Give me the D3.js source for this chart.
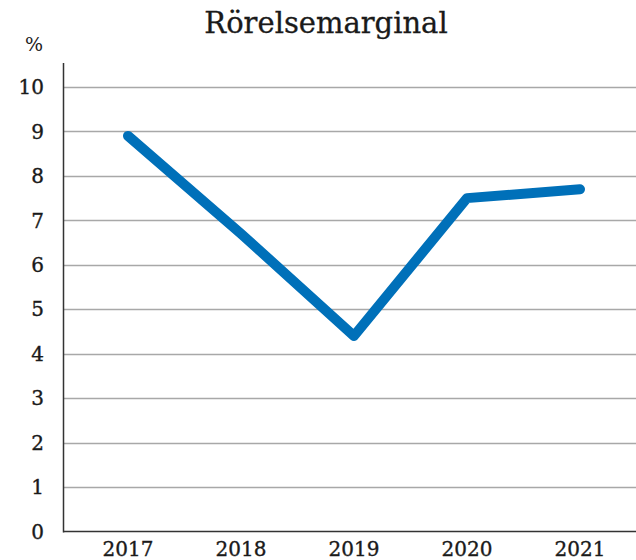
<!DOCTYPE html>
<html lang="sv">
<head>
  <meta charset="UTF-8">
  <title>Rörelsemarginal</title>
  <script src="https://d3js.org/d3.v7.min.js"></script>
  <style>
    body {
      margin: 0;
      background: #fff;
      font-family: "DejaVu Serif", serif;
    }
    .grid line { stroke: #a8a8a8; stroke-width: 1.5px; }
    .tick-label { font-size: 20px; fill: #1a1a1a; stroke: #1a1a1a; stroke-width: 0.35px; }
  </style>
</head>
<body>
<div id="chart"></div>

<script>
  // data
  var years = ["2017", "2018", "2019", "2020", "2021"];
  var margin = [8.9, 6.7, 4.4, 7.5, 7.7];
  var yTicks = [0, 1, 2, 3, 4, 5, 6, 7, 8, 9, 10];

  var width = 636, height = 560;
  var plotLeft = 63.5, plotRight = 636, plotTop = 63, plotBottom = 531.5;

  var svg = d3.select("#chart").append("svg")
    .attr("width", width)
    .attr("height", height);

  var x = d3.scalePoint()
    .domain(years)
    .range([128, 580]);

  var y = d3.scaleLinear()
    .domain([0, 10])
    .range([plotBottom, 87]);

  // gridlines
  svg.append("g").attr("class", "grid")
    .selectAll("line")
    .data(yTicks.filter(d => d > 0))
    .enter().append("line")
    .attr("x1", plotLeft)
    .attr("x2", plotRight)
    .attr("y1", d => Math.round(y(d)) + 0.5)
    .attr("y2", d => Math.round(y(d)) + 0.5);

  // axis lines
  svg.append("line")
    .attr("x1", plotLeft).attr("x2", plotLeft)
    .attr("y1", plotTop).attr("y2", plotBottom + 1)
    .attr("stroke", "#333").attr("stroke-width", 1.5);

  svg.append("line")
    .attr("x1", plotLeft).attr("x2", plotRight)
    .attr("y1", plotBottom).attr("y2", plotBottom)
    .attr("stroke", "#333").attr("stroke-width", 1.5);

  // y labels
  svg.append("g")
    .selectAll("text")
    .data(yTicks)
    .enter().append("text")
    .attr("class", "tick-label")
    .attr("x", 44)
    .attr("y", d => y(d))
    .attr("dy", "0.36em")
    .attr("text-anchor", "end")
    .text(d => d);

  // x labels
  svg.append("g")
    .selectAll("text")
    .data(years)
    .enter().append("text")
    .attr("class", "tick-label")
    .attr("x", d => x(d))
    .attr("y", 556)
    .attr("text-anchor", "middle")
    .text(d => d);

  svg.append("text")
    .attr("x", 34)
    .attr("y", 51)
    .attr("text-anchor", "middle")
    .attr("font-size", 19)
    .attr("fill", "#1a1a1a")
    .text("%");

  svg.append("text")
    .attr("x", 326)
    .attr("y", 33)
    .attr("text-anchor", "middle")
    .attr("font-size", 29)
    .attr("fill", "#1a1a1a")
    .attr("stroke", "#1a1a1a")
    .attr("stroke-width", 0.3)
    .text("Rörelsemarginal");

  var line = d3.line()
    .x((d, i) => x(years[i]))
    .y(d => y(d));

  svg.append("path")
    .datum(margin)
    .attr("d", line)
    .attr("fill", "none")
    .attr("stroke", "#0070b9")
    .attr("stroke-width", 10)
    .attr("stroke-linecap", "round")
    .attr("stroke-linejoin", "round");
</script>
</body>
</html>
